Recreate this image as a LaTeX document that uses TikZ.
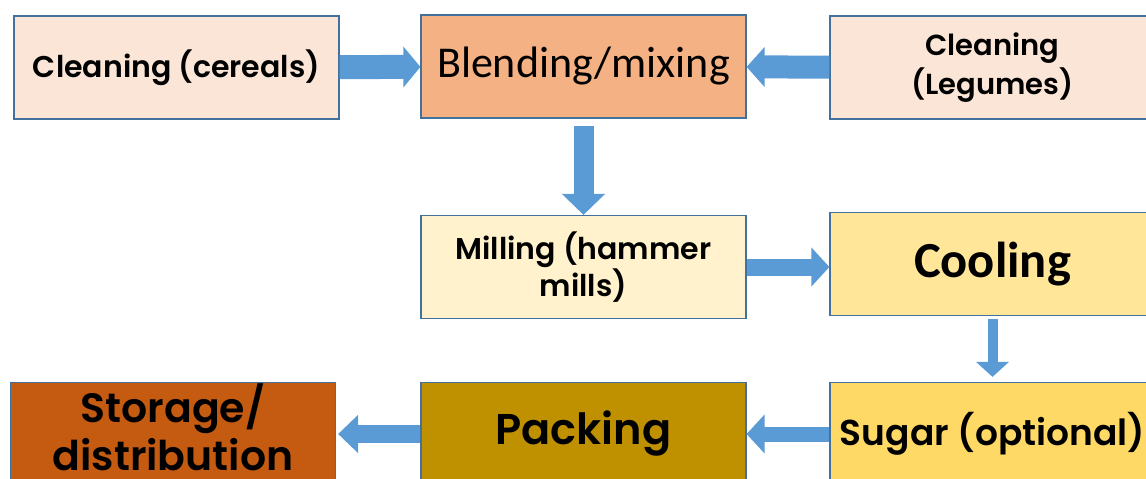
\documentclass[tikz,border=0pt]{standalone}
\usepackage{fontspec}
\setmainfont{Poppins}
\newfontfamily\hand{Poppins SemiBold}
\newfontfamily\calib{Carlito}
\usetikzlibrary{arrows.meta}

\definecolor{edgeblue}{HTML}{41719C}
\definecolor{arrowblue}{HTML}{5B9BD5}
\definecolor{peach}{HTML}{FBE5D6}
\definecolor{apricot}{HTML}{F4B183}
\definecolor{cream}{HTML}{FFF2CC}
\definecolor{butter}{HTML}{FFE699}
\definecolor{gold}{HTML}{FFD966}
\definecolor{ochre}{HTML}{BF9000}
\definecolor{rust}{HTML}{C55A11}

\tikzset{
  stage/.style={draw=edgeblue, line width=1.2pt, minimum width=325pt,
    minimum height=103pt, inner sep=0pt, align=center, text=black},
}

\begin{document}
\begin{tikzpicture}[x=1pt, y=-1pt]
  \useasboundingbox (0,0) rectangle (1146,479);
  \clip (0,0) rectangle (1146,479);

  % process stages
  \node[stage, fill=peach, node font=\hand\fontsize{30}{35}\selectfont] (cer) at (176.5,67.5)
    {Cleaning (cereals)};
  \node[stage, fill=apricot, node font=\calib\fontsize{44}{50}\selectfont] (blend) at (583.5,66.5)
    {Blending/mixing};
  \node[stage, fill=peach, node font=\hand\fontsize{29}{39}\selectfont] (leg) at (992.5,67.5)
    {Cleaning\\(Legumes)};
  \node[stage, fill=cream, node font=\hand\fontsize{30}{33}\selectfont] (mill) at (583.5,267)
    {Milling (hammer\\mills)};
  \node[stage, fill=butter, node font=\calib\bfseries\fontsize{50.5}{56}\selectfont] (cool) at (992.5,264)
    {Cooling};
  \node[stage, fill=gold, node font=\hand\fontsize{36}{40}\selectfont] (sugar) at (992.5,434)
    {\raisebox{-2pt}{Sugar (optional)}};
  \node[stage, fill=ochre, node font=\hand\fontsize{43}{50}\selectfont] (pack) at (583.5,434)
    {Packing};
  \node[stage, fill=rust, node font=\hand\fontsize{41}{48}\selectfont] (stor) at (173,434)
    {\raisebox{5pt}{\begin{tabular}{@{}c@{}}Storage/\\distribution\end{tabular}}};

  % block arrows between stages
  \draw[arrowblue, line width=24pt, -{Triangle[width=40pt,length=17pt]}]
    (cer) -- (blend);
  \draw[arrowblue, line width=23pt, -{Triangle[width=39pt,length=18pt]}]
    (leg) -- (blend);
  \draw[arrowblue, line width=20pt, -{Triangle[width=42pt,length=21pt]}, shorten <=7pt]
    (blend) -- (mill);
  \draw[arrowblue, line width=17pt, -{Triangle[width=38pt,length=18pt]}]
    (mill.east) -- (mill.east -| cool.west);
  \draw[arrowblue, line width=10pt, -{Triangle[width=32pt,length=15pt]}, shorten <=3pt, shorten >=5pt]
    (cool) -- (sugar);
  \draw[arrowblue, line width=15pt, -{Triangle[width=38pt,length=18pt]}]
    (sugar) -- (pack);
  \draw[arrowblue, line width=18pt, -{Triangle[width=37pt,length=20pt]}, shorten >=2pt]
    (pack) -- (stor);
\end{tikzpicture}
\end{document}
